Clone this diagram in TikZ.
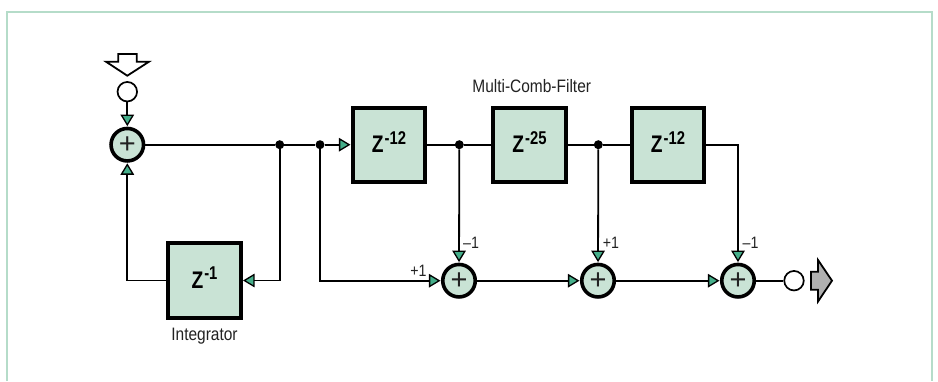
\documentclass[tikz,border=0pt]{standalone}
\usepackage{fontspec}
\usetikzlibrary{arrows.meta,calc}
\setmainfont{Liberation Sans}
\newfontfamily\zfont[FakeStretch=0.8]{Liberation Sans Bold}
\newfontfamily\lblfont[FakeStretch=0.86]{Liberation Sans}
\definecolor{boxfill}{HTML}{C9E3D5}
\definecolor{tipfill}{HTML}{45AE8A}
\definecolor{framec}{HTML}{B5DCC9}
\definecolor{txt}{HTML}{222222}
\definecolor{outfill}{HTML}{B0B0B0}
\tikzset{
  x=1pt,y=-1pt,
  wire/.style={line width=1.8pt,black},
  arr/.style={wire,-{Triangle[length=11.5pt,width=13.5pt,fill=tipfill,line width=1.3pt]},shorten >=0.5pt},
  delaybox/.style={draw=black,fill=boxfill,line width=3.6pt,minimum width=72.5pt,minimum height=74.5pt,inner sep=0pt,text height=15.4pt,text depth=0pt,font=\zfont\fontsize{24}{24}\selectfont},
  sumnode/.style={circle,draw=black,fill=boxfill,line width=3.6pt,minimum size=32.5pt,inner sep=0pt,font=\fontsize{29}{29}\selectfont,text=txt},
  port/.style={circle,draw=black,fill=white,line width=1.7pt,minimum size=19.5pt,inner sep=0pt},
  jdot/.style={circle,fill=black,minimum size=9pt,inner sep=0pt},
  captext/.style={font=\lblfont\fontsize{18}{18}\selectfont,text=txt,inner sep=0pt},
  signtext/.style={font=\lblfont\fontsize{16.5}{16.5}\selectfont,text=txt,inner sep=0pt},
  bigarrow/.style={draw=black,line width=1.8pt,line join=miter},
}
\newcommand{\zexp}[1]{Z\raisebox{8.7pt}{\fontsize{18.5}{18.5}\selectfont\kern1pt #1}}
\begin{document}
\begin{tikzpicture}
\useasboundingbox (0,0) rectangle (938,381);
\fill[white] (0,0) rectangle (938,381);
\draw[framec,line width=1.6pt] (7,381) -- (7,12) -- (932,12) -- (932,381);

\node[sumnode] (sum0) at (127.3,144.7) {+};
\node[port] (inp) at (127.3,91.7) {};
\node[delaybox] (int) at (204.5,280.5) {\zexp{-1}};
\node[delaybox] (b1) at (389,145) {\zexp{-12}};
\node[delaybox] (b2) at (529.5,145) {\zexp{-25}};
\node[delaybox] (b3) at (668,145) {\zexp{-12}};
\node[sumnode] (s1) at (459,280.7) {+};
\node[sumnode] (s2) at (598,280.7) {+};
\node[sumnode] (s3) at (738,280.7) {+};
\node[port] (outp) at (794,280.7) {};
\node[jdot] (d1) at (279.7,144.7) {};
\node[jdot] (d2) at (320,144.7) {};
\node[jdot] (d3) at (459.3,144.7) {};
\node[jdot] (d4) at (598.3,144.7) {};
\coordinate (c1) at (d1 |- int);
\coordinate (c2) at (sum0 |- int);
\coordinate (c3) at (d2 |- s1);
\coordinate (c4) at (s3 |- d4);

\draw[arr] (inp) -- (sum0);
\draw[wire] (sum0) -- (d1);
\draw[wire] (d1) -- (d2);
\draw[arr] (d2) -- (b1.west |- d2);
\draw[arr] (d1) -- (c1) -- (int);
\draw[arr] (int) -- (c2) -- (sum0);
\draw[arr] (d2) -- (c3) -- (s1);
\draw[wire] (b1.east |- d3) -- (d3);
\draw[wire] (d3) -- (b2.west |- d3);
\draw[wire] (b2.east |- d4) -- (d4);
\draw[wire] (d4) -- (b3.west |- d4);
\draw[arr] (b3.east |- d4) -- (c4) -- (s3);
\draw[arr] (d3) -- (s1);
\draw[arr] (d4) -- (s2);
\draw[arr] (s1) -- (s2);
\draw[arr] (s2) -- (s3);
\draw[wire] (s3) -- (outp);

\draw[bigarrow,fill=white] (118.3,54) -- (136.7,54) -- (136.7,61.7) -- (149,61.7) -- (127.3,75.7) -- (106,61.7) -- (118.3,61.7) -- cycle;
\draw[bigarrow,fill=outfill] (811,271.7) -- (818,271.7) -- (818,260) -- (832,280.7) -- (818,301.5) -- (818,289.7) -- (811,289.7) -- cycle;

\node[captext] (multi) at (531.7,86) {Multi-Comb-Filter};
\node[captext] (integ) at (204.5,336) {Integrator};
\node[signtext] (l1) at (418.5,270.5) {+1};
\node[signtext] (l2) at (471,243) {–1};
\node[signtext] (l3) at (611,243) {+1};
\node[signtext] (l4) at (750.5,243) {–1};
\end{tikzpicture}
\end{document}
